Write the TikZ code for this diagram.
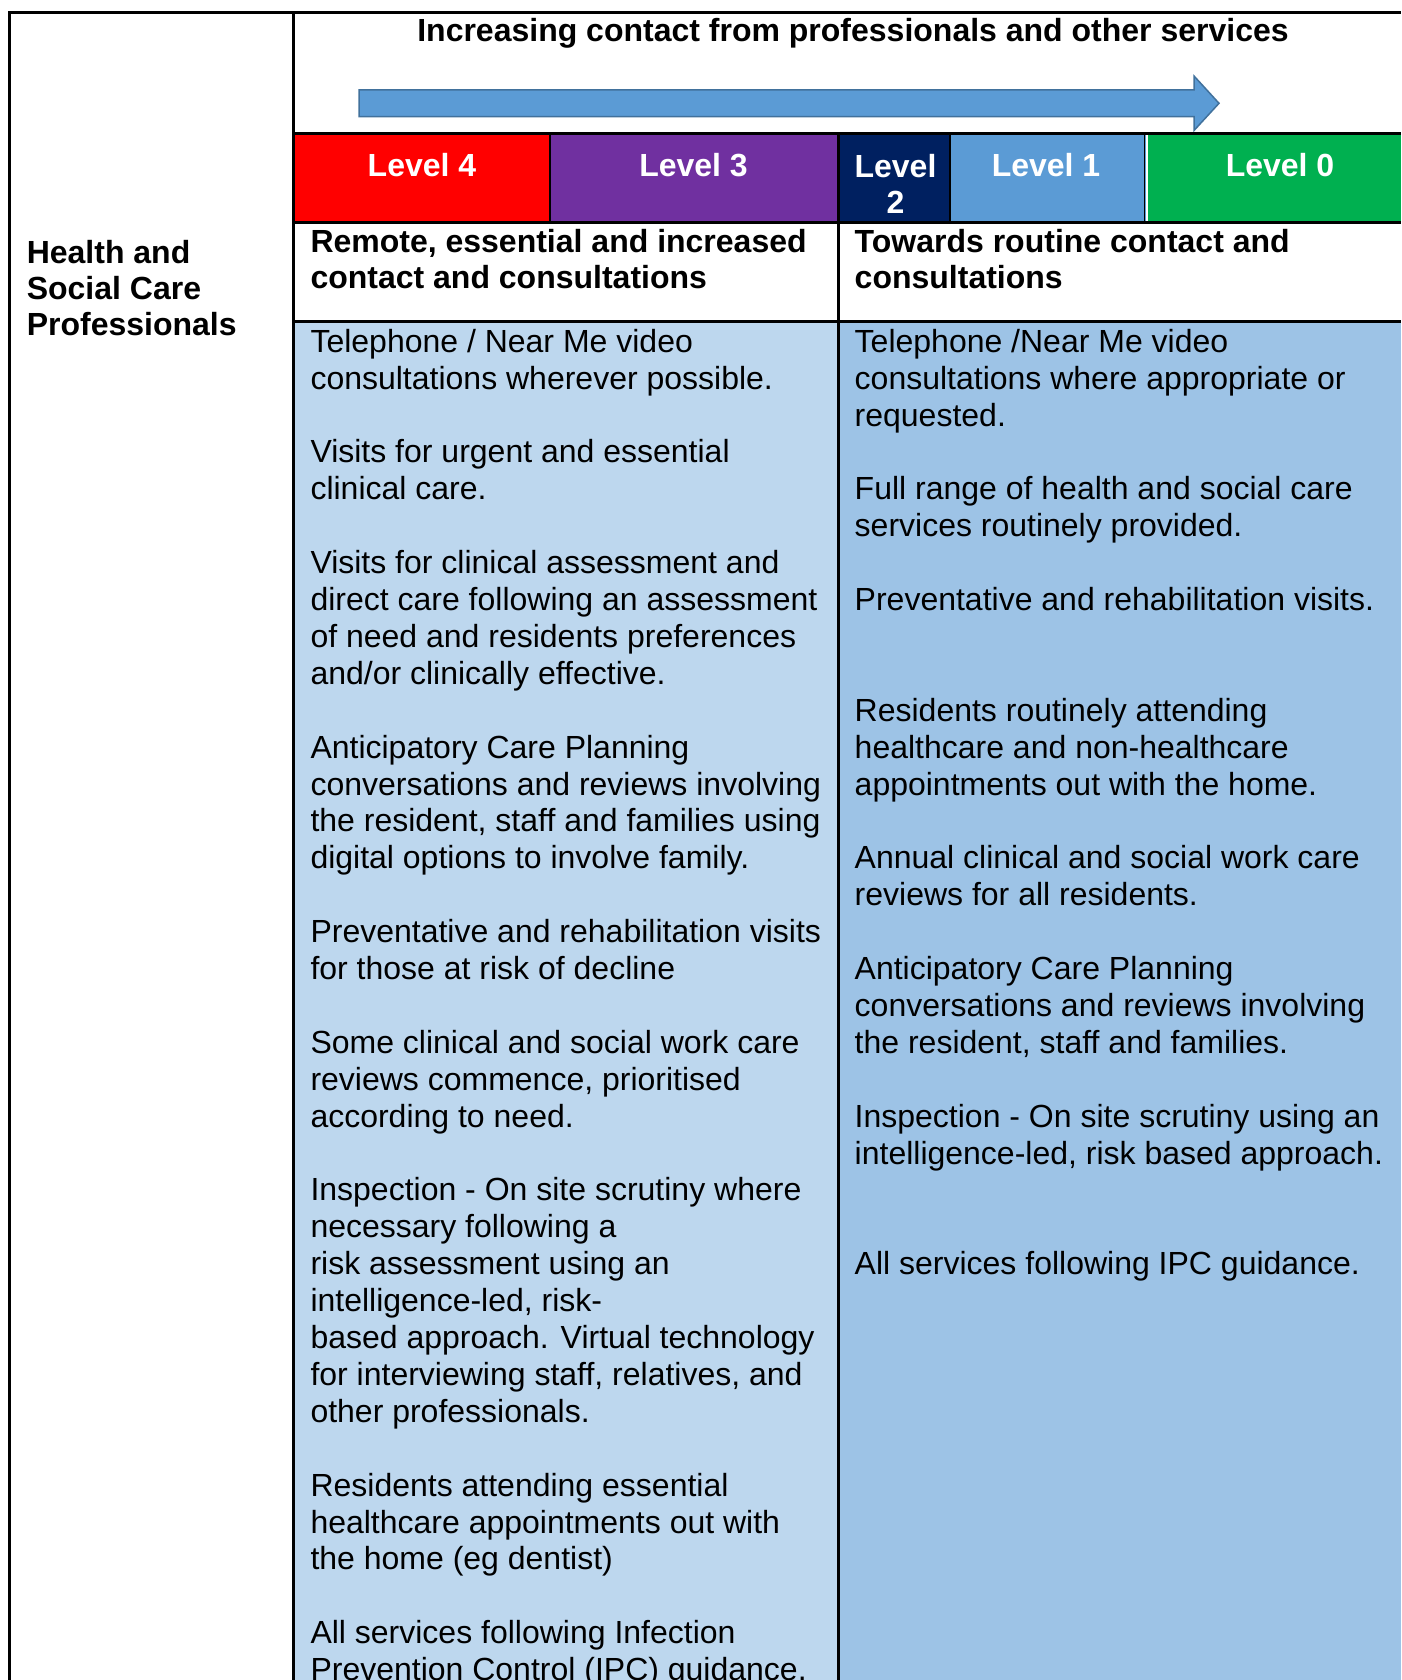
\documentclass[tikz,border=0pt]{standalone}
\usepackage{fontspec}
\setmainfont{Liberation Sans}
\usetikzlibrary{positioning}
\definecolor{lvlred}{HTML}{FF0000}
\definecolor{lvlpurple}{HTML}{7030A0}
\definecolor{lvlnavy}{HTML}{002060}
\definecolor{lvlblue}{HTML}{5B9BD5}
\definecolor{lvlgreen}{HTML}{00B050}
\definecolor{arrowline}{HTML}{41719C}
\definecolor{paleblue}{HTML}{BDD7EE}
\definecolor{midblue}{HTML}{9DC3E6}
\newlength{\gapskip}
\setlength{\gapskip}{36.9pt}
\tikzset{
	x=1pt, y=-1pt,
	every node/.style = {inner sep=0pt, outer sep=0pt},
	rule/.style = {line width=3pt},
	lvltext/.style = {text=white, font=\bfseries\fontsize{32}{36}\selectfont, anchor=base},
	heading/.style = {font=\bfseries\fontsize{32}{36}\selectfont, align=left, anchor=north west},
	bodytext/.style = {font=\fontsize{32}{36.9}\selectfont, align=left, anchor=north west}
}

\begin{document}
\begin{tikzpicture}
	\useasboundingbox (0,0) rectangle (1401,1680);
	% level bands
	\fill[lvlred] (293.5,134) rectangle (550,222.8);
	\fill[lvlpurple] (550,134) rectangle (838.5,222.8);
	\fill[lvlnavy] (838.5,134) rectangle (950,222.8);
	\fill[lvlblue] (950,134) rectangle (1146,222.8);
	\fill[lvlgreen] (1146,134) rectangle (1401,222.8);
	% column fills
	\fill[paleblue] (293.5,321.3) rectangle (838.5,1680);
	\fill[midblue] (838.5,321.3) rectangle (1401,1680);
	% arrow
	\draw[arrowline, fill=lvlblue, line width=1.5pt] (359,90) -- (1194,90) -- (1194,76) -- (1219,103.3) -- (1194,130.5) -- (1194,116.7) -- (359,116.7) -- cycle;
	% grid
	\draw[rule] (9.6,1680) -- (9.6,13) -- (1401,13);
	\draw[rule] (293.5,13) -- (293.5,1680);
	\draw[rule] (293.5,134) -- (1401,134);
	\draw[rule] (293.5,222.8) -- (1401,222.8);
	\draw[rule] (293.5,321.3) -- (1401,321.3);
	\draw[rule] (838.5,134) -- (838.5,1680);
	\draw[line width=2.5pt] (550,134) -- (550,222.8);
	\draw[line width=2.5pt] (950,134) -- (950,222.8);
	\draw[line width=1pt] (1144.5,134) -- (1144.5,222.8);
	\draw[white, line width=2pt] (1146.5,135.5) -- (1146.5,221.3);

	\node (title) [lvltext, text=black] at (853,41.5) {Increasing contact from professionals and other services};
	\node (lvlfour) [lvltext] at (422,177) {Level 4};
	\node (lvlthree) [lvltext] at (693.5,177) {Level 3};
	\node (lvltwo) [lvltext, align=center, anchor=north] at (895.5,154) {Level\\2};
	\node (lvlone) [lvltext] at (1046,177) {Level 1};
	\node (lvlzero) [lvltext] at (1280,177) {Level 0};

	\node (who) [heading] at (26.8,240) {Health and\\Social Care\\Professionals};
	\node (remote) [heading] at (310.5,229.5) {Remote, essential and increased\\contact and consultations};
	\node (routine) [heading] at (854.7,229.5) {Towards routine contact and\\consultations};

	\node (remotelist) [bodytext] at (310.5,329) {Telephone / Near Me video\\
		consultations wherever possible.\\[\gapskip]
		Visits for urgent and essential\\
		clinical care.\\[\gapskip]
		Visits for clinical assessment and\\
		direct care following an assessment\\
		of need and residents preferences\\
		and/or clinically effective.\\[\gapskip]
		Anticipatory Care Planning\\
		conversations and reviews involving\\
		the resident, staff and families using\\
		digital options to involve family.\\[\gapskip]
		Preventative and rehabilitation visits\\
		for those at risk of decline\\[\gapskip]
		Some clinical and social work care\\
		reviews commence, prioritised\\
		according to need.\\[\gapskip]
		Inspection - On site scrutiny where\\
		necessary following a\\
		risk assessment using an\\
		intelligence-led, risk-\\
		based approach. Virtual technology\\
		for interviewing staff, relatives, and\\
		other professionals.\\[\gapskip]
		Residents attending essential\\
		healthcare appointments out with\\
		the home (eg dentist)\\[\gapskip]
		All services following Infection\\
		Prevention Control (IPC) guidance.};
	\node (routinelist) [bodytext] at (854.7,329) {Telephone /Near Me video\\
		consultations where appropriate or\\
		requested.\\[\gapskip]
		Full range of health and social care\\
		services routinely provided.\\[\gapskip]
		Preventative and rehabilitation visits.\\[2\gapskip]
		Residents routinely attending\\
		healthcare and non-healthcare\\
		appointments out with the home.\\[\gapskip]
		Annual clinical and social work care\\
		reviews for all residents.\\[\gapskip]
		Anticipatory Care Planning\\
		conversations and reviews involving\\
		the resident, staff and families.\\[\gapskip]
		Inspection - On site scrutiny using an\\
		intelligence-led, risk based approach.\\[2\gapskip]
		All services following IPC guidance.};
\end{tikzpicture}
\end{document}
